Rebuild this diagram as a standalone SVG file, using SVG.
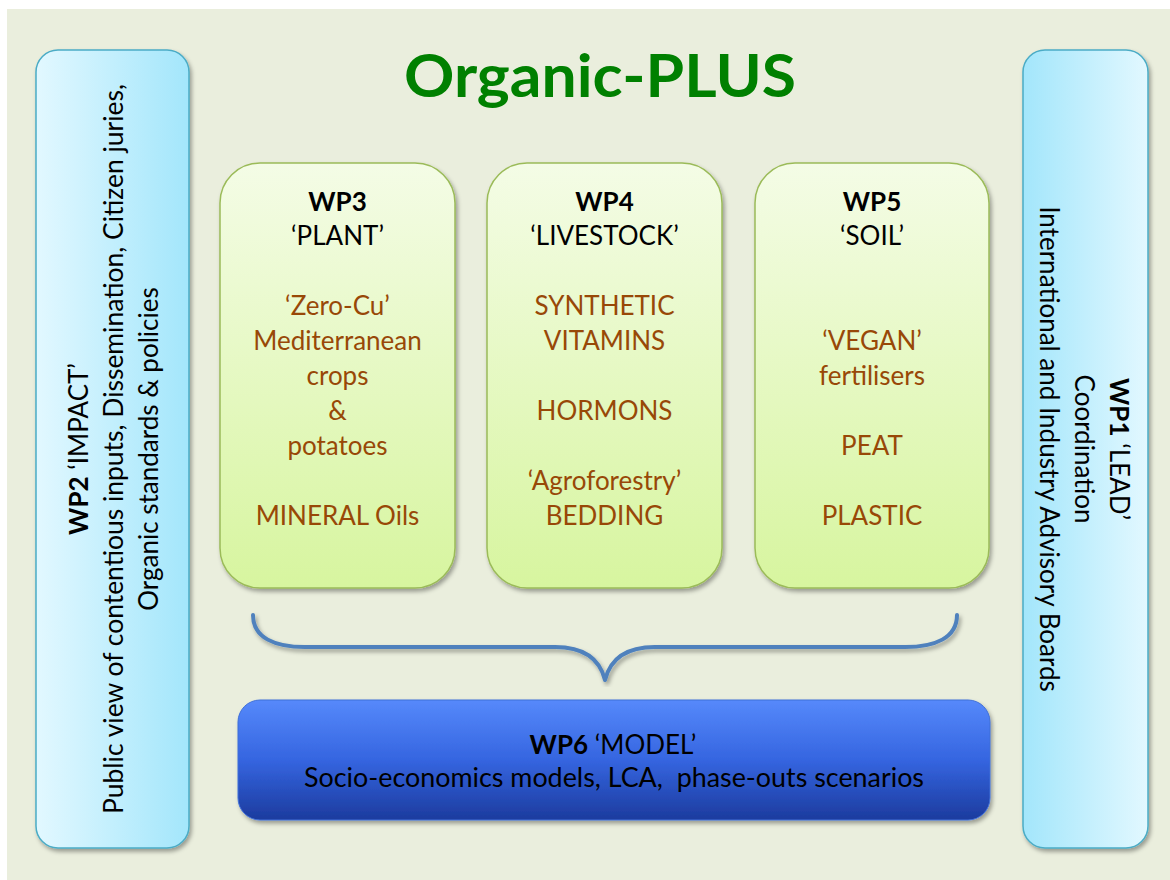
<svg xmlns="http://www.w3.org/2000/svg" width="1170" height="880" viewBox="0 0 1170 880">
  <style>
    text { font-family: Lato, "Open Sans", "Liberation Sans", sans-serif; }
    .hd { font-size: 26px; font-weight: bold; fill: #000; text-anchor: middle; }
    .nm { font-size: 26px; fill: #000; text-anchor: middle; }
    .br { font-size: 26px; fill: #984807; text-anchor: middle; }
    .side { font-size: 26px; fill: #000; text-anchor: middle; }
    .green { fill: url(#gGreen); stroke: #9BBB59; stroke-width: 1.5; filter: url(#sh); }
    .blueL { fill: url(#gSideL); stroke: #4BACC6; stroke-width: 1.5; filter: url(#sh); }
    .blueR { fill: url(#gSideR); stroke: #4BACC6; stroke-width: 1.5; filter: url(#sh); }
  </style>
  <defs>
    <linearGradient id="gGreen" x1="0" y1="0" x2="0" y2="1">
      <stop offset="0" stop-color="#F4FCE6"/>
      <stop offset="1" stop-color="#D7F59F"/>
    </linearGradient>
    <linearGradient id="gSideL" x1="0" y1="0" x2="1" y2="0">
      <stop offset="0" stop-color="#E2F8FF"/>
      <stop offset="1" stop-color="#A3E6FB"/>
    </linearGradient>
    <linearGradient id="gSideR" x1="0" y1="0" x2="1" y2="0">
      <stop offset="0" stop-color="#A3E6FB"/>
      <stop offset="1" stop-color="#E2F8FF"/>
    </linearGradient>
    <linearGradient id="gBlue" x1="0" y1="0" x2="0" y2="1">
      <stop offset="0" stop-color="#5689FB"/>
      <stop offset="0.5" stop-color="#3565E0"/>
      <stop offset="1" stop-color="#1C3B9E"/>
    </linearGradient>
    <filter id="sh" x="-10%" y="-10%" width="120%" height="120%">
      <feDropShadow dx="2" dy="3" stdDeviation="2" flood-color="#000" flood-opacity="0.35"/>
    </filter>
  </defs>

  <rect x="0" y="0" width="1170" height="880" fill="#FFFFFF"/>
  <rect x="7" y="9" width="1163" height="871" fill="#EAEEDD"/>

  <text id="title" x="600" y="97" font-size="60" font-weight="bold" fill="#008000" text-anchor="middle" textLength="392" lengthAdjust="spacingAndGlyphs">Organic-PLUS</text>

  <g id="wp2">
    <rect class="blueL" x="36" y="50" width="153" height="798" rx="22"/>
    <g transform="translate(0,449) rotate(-90)">
      <text class="side" x="0" y="88"><tspan font-weight="bold">WP2</tspan> ‘IMPACT’</text>
      <text class="side" x="0" y="123" textLength="730" lengthAdjust="spacingAndGlyphs">Public view of contentious inputs, Dissemination, Citizen juries,</text>
      <text class="side" x="0" y="158">Organic standards &amp; policies</text>
    </g>
  </g>

  <g id="wp1">
    <rect class="blueR" x="1023" y="50" width="125" height="798" rx="22"/>
    <g transform="translate(0,449) rotate(90)">
      <text class="side" x="0" y="-1110"><tspan font-weight="bold">WP1</tspan> ‘LEAD’</text>
      <text class="side" x="0" y="-1075">Coordination</text>
      <text class="side" x="0" y="-1040">International and Industry Advisory Boards</text>
    </g>
  </g>

  <g id="wp3">
    <rect class="green" x="220" y="163" width="235" height="425" rx="40"/>
    <text class="hd" x="337.5" y="211">WP3</text>
    <text class="nm" x="337.5" y="245">‘PLANT’</text>
    <text class="br" x="337.5" y="315">‘Zero-Cu’</text>
    <text class="br" x="337.5" y="350">Mediterranean</text>
    <text class="br" x="337.5" y="385">crops</text>
    <text class="br" x="337.5" y="420">&amp;</text>
    <text class="br" x="337.5" y="455">potatoes</text>
    <text class="br" x="337.5" y="525">MINERAL Oils</text>
  </g>

  <g id="wp4">
    <rect class="green" x="487" y="163" width="235" height="425" rx="40"/>
    <text class="hd" x="604.5" y="211">WP4</text>
    <text class="nm" x="604.5" y="245">‘LIVESTOCK’</text>
    <text class="br" x="604.5" y="315">SYNTHETIC</text>
    <text class="br" x="604.5" y="350">VITAMINS</text>
    <text class="br" x="604.5" y="420">HORMONS</text>
    <text class="br" x="604.5" y="490">‘Agroforestry’</text>
    <text class="br" x="604.5" y="525">BEDDING</text>
  </g>

  <g id="wp5">
    <rect class="green" x="755" y="163" width="234" height="425" rx="40"/>
    <text class="hd" x="872" y="211">WP5</text>
    <text class="nm" x="872" y="245">‘SOIL’</text>
    <text class="br" x="872" y="350">‘VEGAN’</text>
    <text class="br" x="872" y="385">fertilisers</text>
    <text class="br" x="872" y="455">PEAT</text>
    <text class="br" x="872" y="525">PLASTIC</text>
  </g>

  <g id="connectors">
    <path d="M253,615 C253,638 275,647 305,647 L555,647 C585,647 600,660 605,680 C610,660 625,647 655,647 L905,647 C935,647 957,638 957,615" fill="none" stroke="#4F81BD" stroke-width="4" stroke-linecap="round" stroke-linejoin="round" filter="url(#sh)"/>
  </g>

  <g id="wp6">
    <rect x="238" y="700" width="752" height="120" rx="22" fill="url(#gBlue)" stroke="#3F6FD8" stroke-width="1" filter="url(#sh)"/>
    <text class="nm" x="613" y="754"><tspan font-weight="bold">WP6</tspan> ‘MODEL’</text>
    <text class="nm" x="614" y="787" xml:space="preserve" style="white-space: pre" textLength="620" lengthAdjust="spacingAndGlyphs">Socio-economics models, LCA,  phase-outs scenarios</text>
  </g>
</svg>
